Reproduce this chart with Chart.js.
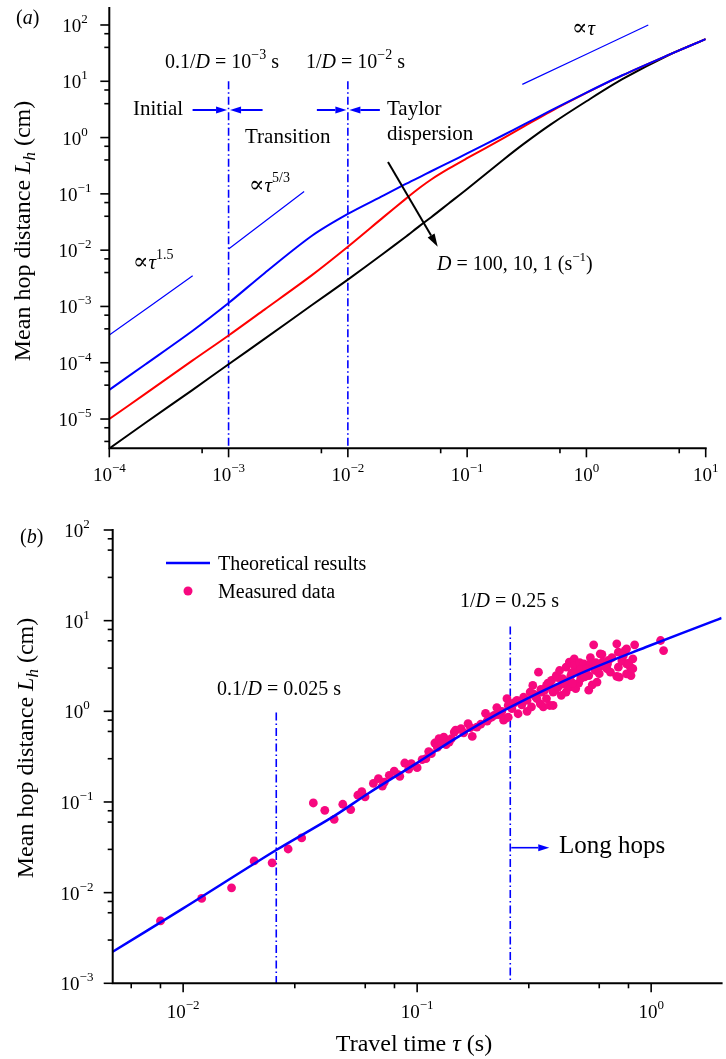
<!DOCTYPE html>
<html>
<head>
<meta charset="utf-8">
<script src="https://cdn.jsdelivr.net/npm/chart.js@4.4.1/dist/chart.umd.min.js"></script>
<style>
  html, body { margin: 0; padding: 0; background: #fff; }
  #wrap { position: relative; width: 726px; height: 1059px; }
  #wrap canvas { position: absolute; left: 0; }
</style>
</head>
<body>
<div id="wrap">
  <canvas id="chartA" width="726" height="500" style="top:0;width:726px;height:500px"></canvas>
  <canvas id="chartB" width="726" height="559" style="top:500px;width:726px;height:559px"></canvas>
</div>
<script>
// ---------- panel (a): theoretical mean hop distance for D = 100, 10, 1 ----------
const tauA   = [1e-4, 2e-4, 5e-4, 1e-3, 2e-3, 5e-3, 1e-2, 2e-2, 3e-2, 4e-2, 5e-2, 7e-2, 0.1, 0.2, 0.3, 0.5, 1, 2, 5, 10];
const lhD100 = [3.3e-5, 9.3e-5, 3.7e-4, 1.15e-3, 3.9e-3, 1.8e-2, 4.4e-2, 9.4e-2, 0.147, 0.199, 0.252, 0.358, 0.523, 1.1, 1.71, 3.0, 6.3, 12.8, 30, 56];
const lhD10  = [1.0e-5, 2.8e-5, 1.1e-4, 3.05e-4, 8.8e-4, 3.6e-3, 1.15e-2, 3.9e-2, 0.079, 0.128, 0.18, 0.28, 0.43, 0.97, 1.58, 2.9, 6.2, 12.7, 30, 56];
const lhD1   = [3.0e-6, 8.5e-6, 3.3e-5, 9.4e-5, 2.65e-4, 1.06e-3, 3.0e-3, 8.8e-3, 0.0168, 0.027, 0.0385, 0.0674, 0.122, 0.40, 0.78, 1.70, 4.42, 10.9, 29.9, 56];

// slope guides (tau, L) end points
const guide15Tau = [1e-4, 5e-4],  guide15L = [3.1e-4, 3.5e-3];
const guide53Tau = [1e-3, 4.3e-3], guide53L = [1.05e-2, 0.11];
const guide1Tau  = [0.29, 3.3],   guide1L  = [8.8, 100];

// regime boundaries 0.1/D and 1/D
const markTauA = [1e-3, 1e-2];
const markTopA = 10;

// axis ranges
const xRangeA = [1e-4, 10],   yRangeA = [3.02e-6, 199.5];
const xRangeB = [0.005, 2],   yRangeB = [1e-3, 100];

// ---------- panel (b): theory for D = 4 and measured hops ----------
const tauB     = [0.005, 0.01, 0.025, 0.0434, 0.062, 0.1, 0.149, 0.25, 0.494, 0.946, 1.87, 2];
const lhTheory = [0.00223, 0.0067, 0.0295, 0.068, 0.125, 0.27, 0.52, 1.11, 2.59, 5.09, 10.0, 10.7];

const measuredTau = [
  0.0080, 0.0120, 0.0161, 0.0201, 0.0240, 0.0281, 0.0321, 0.0360, 0.0403, 0.0442, 0.0481, 0.0520, 0.0558, 0.0599,
  0.065, 0.0683, 0.0724, 0.076, 0.0798, 0.0843, 0.0885, 0.0944, 0.100, 0.105, 0.109, 0.115, 0.119, 0.124, 0.130, 0.137, 0.144,
  0.122, 0.133, 0.146, 0.154, 0.165, 0.169, 0.172, 0.180, 0.196, 0.199, 0.202, 0.213, 0.219, 0.226, 0.230, 0.234, 0.238,
  0.242, 0.245, 0.245, 0.254, 0.267, 0.270, 0.285, 0.295, 0.295, 0.304, 0.308, 0.312, 0.325, 0.330, 0.336, 0.340, 0.346,
  0.357, 0.357, 0.369, 0.375, 0.381, 0.381, 0.393, 0.400, 0.400, 0.406, 0.413, 0.426, 0.433, 0.433, 0.440, 0.447, 0.447,
  0.454, 0.469, 0.469, 0.476, 0.484, 0.490, 0.495, 0.500, 0.516, 0.524, 0.541, 0.541, 0.550, 0.560, 0.568, 0.577, 0.587,
  0.596, 0.606, 0.616, 0.626, 0.647, 0.657, 0.713, 0.713, 0.724, 0.724, 0.730, 0.773, 0.785, 0.785, 0.785, 0.815, 0.820,
  0.835, 0.835, 0.850, 1.097, 1.13,
  0.26, 0.28, 0.32, 0.35, 0.37, 0.42, 0.45, 0.52, 0.60, 0.65, 0.68, 0.50, 0.55, 0.62,
  0.058, 0.071, 0.083, 0.092, 0.112, 0.127, 0.140, 0.158, 0.187, 0.208, 0.222, 0.258, 0.276, 0.315,
  0.338, 0.362, 0.388, 0.418, 0.458, 0.462, 0.53, 0.58, 0.64, 0.67, 0.75, 0.76, 0.80
];
const measuredL = [
  0.00488, 0.00863, 0.0113, 0.0224, 0.0213, 0.0303, 0.0401, 0.0975, 0.081, 0.0644, 0.0944, 0.0824, 0.119, 0.114,
  0.16, 0.181, 0.166, 0.197, 0.219, 0.192, 0.269, 0.265, 0.239, 0.293, 0.30, 0.341, 0.447, 0.499, 0.52, 0.458, 0.59,
  0.40, 0.43, 0.62, 0.643, 0.73, 0.66, 0.528, 0.67, 0.95, 0.78, 0.828, 0.90, 1.10, 0.94, 0.998, 0.80, 0.83,
  1.38, 1.16, 0.86, 1.07, 1.32, 0.94, 1.43, 1.0, 1.32, 1.63, 1.12, 1.93, 1.38, 2.70, 1.21, 1.63, 1.12,
  1.93, 1.38, 1.16, 2.19, 1.63, 1.16, 2.48, 1.85, 2.35, 2.82, 1.50, 2.19, 3.07, 1.63, 1.93, 3.49, 1.85,
  2.48, 3.79, 3.2, 1.78, 2.70, 2.05, 3.45, 2.29, 3.34, 2.82, 2.48, 1.71, 3.34, 1.96, 5.41, 2.82, 2.10,
  3.07, 4.31, 4.24, 3.20, 2.95, 3.64, 5.55, 2.43, 4.49, 3.07, 2.38, 4.68, 3.34, 2.59, 4.89, 3.07, 2.48,
  3.79, 2.95, 5.41, 6.04, 4.68,
  1.25, 1.18, 1.45, 1.70, 1.85, 2.00, 2.20, 2.40, 2.60, 3.30, 3.90, 2.90, 3.90, 3.50,
  0.13, 0.15, 0.20, 0.23, 0.36, 0.44, 0.50, 0.58, 0.72, 0.86, 0.92, 1.22, 1.28, 1.55,
  1.75, 2.05, 1.70, 2.30, 2.65, 2.05, 2.95, 3.45, 3.10, 2.70, 3.60, 4.10, 3.40
];

// regime boundaries for D = 4
const markTauB = [0.025, 0.25];
const markTopB = [0.97, 8.6];

// ---------- helpers ----------
const FONT = "'Liberation Serif','DejaVu Serif','Times New Roman',serif";
const BLUE = '#0000ff', RED = '#ff0000', PINK = '#f7087f';
const DASHDOT = [8, 3, 1.5, 3];

function pts(xs, ys) { return xs.map((x, i) => ({ x: x, y: ys[i] })); }

function font(size, italic) { return (italic ? 'italic ' : '') + size + 'px ' + FONT; }

// runs: [text, size, italic, dy]
function drawRich(ctx, runs, x, y, align) {
  let w = 0;
  runs.forEach(r => { ctx.font = font(r[1], r[2]); w += ctx.measureText(r[0]).width; });
  let cx = align === 'center' ? x - w / 2 : (align === 'right' ? x - w : x);
  runs.forEach(r => {
    ctx.font = font(r[1], r[2]);
    ctx.fillText(r[0], cx, y + (r[3] || 0));
    cx += ctx.measureText(r[0]).width;
  });
}

function expStr(e) { return e < 0 ? '\u2212' + (-e) : String(e); }

function logTicks(scale) {
  const out = [];
  const lo = Math.floor(Math.log10(scale.min)), hi = Math.ceil(Math.log10(scale.max));
  for (let e = lo; e <= hi; e++) {
    for (let m = 1; m <= 9; m++) {
      const v = m * Math.pow(10, e);
      if (v >= scale.min * 0.999 && v <= scale.max * 1.001) out.push({ value: v, major: m === 1 });
    }
  }
  scale.ticks = out;
}

function arrow(ctx, x1, y1, x2, y2, color, lw, hl, hw) {
  const a = Math.atan2(y2 - y1, x2 - x1);
  const bx = x2 - hl * Math.cos(a), by = y2 - hl * Math.sin(a);
  ctx.strokeStyle = color; ctx.fillStyle = color; ctx.lineWidth = lw;
  ctx.beginPath(); ctx.moveTo(x1, y1); ctx.lineTo(bx, by); ctx.stroke();
  ctx.beginPath();
  ctx.moveTo(x2, y2);
  ctx.lineTo(bx + hw / 2 * Math.sin(a), by - hw / 2 * Math.cos(a));
  ctx.lineTo(bx - hw / 2 * Math.sin(a), by + hw / 2 * Math.cos(a));
  ctx.closePath(); ctx.fill();
}

// draws left/bottom axes, tick marks and 10^n labels from the chart's own scales
function axesPlugin(opt) {
  return {
    id: 'axes',
    afterDraw(chart) {
      const ctx = chart.ctx, xs = chart.scales.x, ys = chart.scales.y, a = chart.chartArea;
      ctx.save();
      ctx.strokeStyle = '#000'; ctx.fillStyle = '#000';
      ctx.lineWidth = 2; ctx.lineCap = 'square';
      ctx.beginPath();
      ctx.moveTo(a.left, a.top); ctx.lineTo(a.left, a.bottom); ctx.lineTo(a.right, a.bottom);
      ctx.stroke();
      ctx.lineCap = 'butt'; ctx.lineWidth = 1.6;
      xs.ticks.forEach(t => {
        const p = xs.getPixelForValue(t.value);
        ctx.beginPath(); ctx.moveTo(p, a.bottom); ctx.lineTo(p, a.bottom + (t.major ? 9 : 5)); ctx.stroke();
        if (t.major) {
          const e = Math.round(Math.log10(t.value));
          drawRich(ctx, [['10', 19], [expStr(e), 13, false, -9]], p, a.bottom + opt.xLabelDy, 'center');
        }
      });
      ys.ticks.forEach(t => {
        const p = ys.getPixelForValue(t.value);
        ctx.beginPath(); ctx.moveTo(a.left, p); ctx.lineTo(a.left - (t.major ? 9 : 5), p); ctx.stroke();
        if (t.major) {
          const e = Math.round(Math.log10(t.value));
          drawRich(ctx, [['10', 19], [expStr(e), 13, false, -9]], opt.yLabelX, p + 7, 'center');
        }
      });
      // y title
      ctx.save();
      ctx.translate(opt.yTitleX, opt.yTitleY);
      ctx.rotate(-Math.PI / 2);
      drawRich(ctx, [['Mean hop distance ', 24], ['L', 24, true], ['h', 17, true, 5], [' (cm)', 24]], 0, 0, 'center');
      ctx.restore();
      if (opt.xTitle) {
        drawRich(ctx, [['Travel time ', 24], ['\u03c4', 24, true], [' (s)', 24]], opt.xTitleX, opt.xTitleY, 'center');
      }
      ctx.restore();
    }
  };
}

const annotA = {
  id: 'annotA',
  afterDraw(chart) {
    const ctx = chart.ctx, xs = chart.scales.x;
    const p3 = xs.getPixelForValue(markTauA[0]), p2 = xs.getPixelForValue(markTauA[1]);
    ctx.save();
    ctx.fillStyle = '#000';
    drawRich(ctx, [['(', 20], ['a', 20, true], [')', 20]], 16, 24, 'left');
    drawRich(ctx, [['0.1/', 20], ['D', 20, true], [' = 10', 20], ['\u22123', 14, false, -9], [' s', 20]], 165, 68, 'left');
    drawRich(ctx, [['1/', 20], ['D', 20, true], [' = 10', 20], ['\u22122', 14, false, -9], [' s', 20]], 306, 68, 'left');
    drawRich(ctx, [['Initial', 21]], 133, 115, 'left');
    drawRich(ctx, [['Transition', 21]], 245, 143, 'left');
    drawRich(ctx, [['Taylor', 21]], 387, 115, 'left');
    drawRich(ctx, [['dispersion', 21]], 387, 140, 'left');
    drawRich(ctx, [['\u221d', 23], ['\u03c4', 21, true], ['5/3', 14, false, -10]], 249, 192, 'left');
    drawRich(ctx, [['\u221d', 23], ['\u03c4', 21, true], ['1.5', 14, false, -10]], 133, 269, 'left');
    drawRich(ctx, [['\u221d', 23], ['\u03c4', 21, true]], 572, 35, 'left');
    drawRich(ctx, [['D', 20, true], [' = 100, 10, 1 (s', 20], ['\u22121', 13, false, -9], [')', 20]], 437, 270, 'left');
    // regime arrows
    const ay = 110;
    arrow(ctx, p3 - 36, ay, p3 - 1.5, ay, BLUE, 2, 11, 7);
    arrow(ctx, p3 + 34, ay, p3 + 1.5, ay, BLUE, 2, 11, 7);
    arrow(ctx, p2 - 31, ay, p2 - 1.5, ay, BLUE, 2, 11, 7);
    arrow(ctx, p2 + 32, ay, p2 + 1.5, ay, BLUE, 2, 11, 7);
    // increasing-D arrow
    arrow(ctx, 388, 162, 437.7, 246.7, '#000', 2, 13, 8);
    ctx.restore();
  }
};

const annotB = {
  id: 'annotB',
  afterDraw(chart) {
    const ctx = chart.ctx, xs = chart.scales.x;
    const ds = chart.data.datasets;
    ctx.save();
    ctx.fillStyle = '#000';
    drawRich(ctx, [['(', 20], ['b', 20, true], [')', 20]], 20, 43, 'left');
    // legend
    ctx.strokeStyle = BLUE; ctx.lineWidth = 2.5;
    ctx.beginPath(); ctx.moveTo(166, 63); ctx.lineTo(210, 63); ctx.stroke();
    ctx.fillStyle = PINK;
    ctx.beginPath(); ctx.arc(188, 91, 4.5, 0, Math.PI * 2); ctx.fill();
    ctx.fillStyle = '#000';
    drawRich(ctx, [[ds[0].label, 20]], 218, 70, 'left');
    drawRich(ctx, [[ds[1].label, 20]], 218, 98, 'left');
    drawRich(ctx, [['0.1/', 20], ['D', 20, true], [' = 0.025 s', 20]], 217, 195, 'left');
    drawRich(ctx, [['1/', 20], ['D', 20, true], [' = 0.25 s', 20]], 460, 107, 'left');
    const px = xs.getPixelForValue(markTauB[1]);
    arrow(ctx, px + 1, 347.7, px + 39, 347.7, BLUE, 1.6, 11, 7);
    ctx.fillStyle = '#000';
    drawRich(ctx, [['Long hops', 25]], 559, 353, 'left');
    ctx.restore();
  }
};

function lineDs(xs, ys, color, width) {
  return { data: pts(xs, ys), borderColor: color, borderWidth: width, pointRadius: 0,
           fill: false, tension: 0.3 };
}
function markDs(x, top, bottom) {
  return { data: [{ x: x, y: top }, { x: x, y: bottom }], borderColor: BLUE, borderWidth: 1.6,
           borderDash: DASHDOT, pointRadius: 0, fill: false, tension: 0 };
}
function scalesFor(xr, yr) {
  return {
    x: { type: 'logarithmic', min: xr[0], max: xr[1], display: false, afterBuildTicks: logTicks },
    y: { type: 'logarithmic', min: yr[0], max: yr[1], display: false, afterBuildTicks: logTicks }
  };
}

// ---------- chart (a) ----------
new Chart(document.getElementById('chartA').getContext('2d'), {
  type: 'line',
  data: {
    datasets: [
      lineDs(tauA, lhD100, BLUE, 2),
      lineDs(tauA, lhD10, RED, 2),
      lineDs(tauA, lhD1, '#000', 2),
      lineDs(guide15Tau, guide15L, BLUE, 1.2),
      lineDs(guide53Tau, guide53L, BLUE, 1.2),
      lineDs(guide1Tau, guide1L, BLUE, 1.2),
      markDs(markTauA[0], markTopA, yRangeA[0]),
      markDs(markTauA[1], markTopA, yRangeA[0])
    ]
  },
  options: {
    responsive: false, animation: false,
    layout: { padding: { left: 109.3, right: 20.3, top: 8.1, bottom: 51.7 } },
    scales: scalesFor(xRangeA, yRangeA),
    plugins: { legend: { display: false }, tooltip: { enabled: false } }
  },
  plugins: [axesPlugin({ xLabelDy: 33, yLabelX: 75, yTitleX: 30, yTitleY: 231 }), annotA]
});

// ---------- chart (b) ----------
new Chart(document.getElementById('chartB').getContext('2d'), {
  type: 'line',
  data: {
    datasets: [
      Object.assign(lineDs(tauB, lhTheory, BLUE, 2.5), { label: 'Theoretical results' }),
      { label: 'Measured data', data: pts(measuredTau, measuredL), showLine: false,
        pointRadius: 4.4, pointBackgroundColor: PINK, pointBorderWidth: 0, borderColor: PINK },
      markDs(markTauB[0], markTopB[0], yRangeB[0]),
      markDs(markTauB[1], markTopB[1], yRangeB[0])
    ]
  },
  options: {
    responsive: false, animation: false,
    layout: { padding: { left: 112.7, right: 0, top: 30, bottom: 75.7 } },
    scales: scalesFor(xRangeB, yRangeB),
    plugins: { legend: { display: false }, tooltip: { enabled: false } }
  },
  plugins: [axesPlugin({ xLabelDy: 35, yLabelX: 77, yTitleX: 33, yTitleY: 248,
                         xTitle: true, xTitleX: 414, xTitleY: 551 }), annotB]
});
</script>
</body>
</html>
